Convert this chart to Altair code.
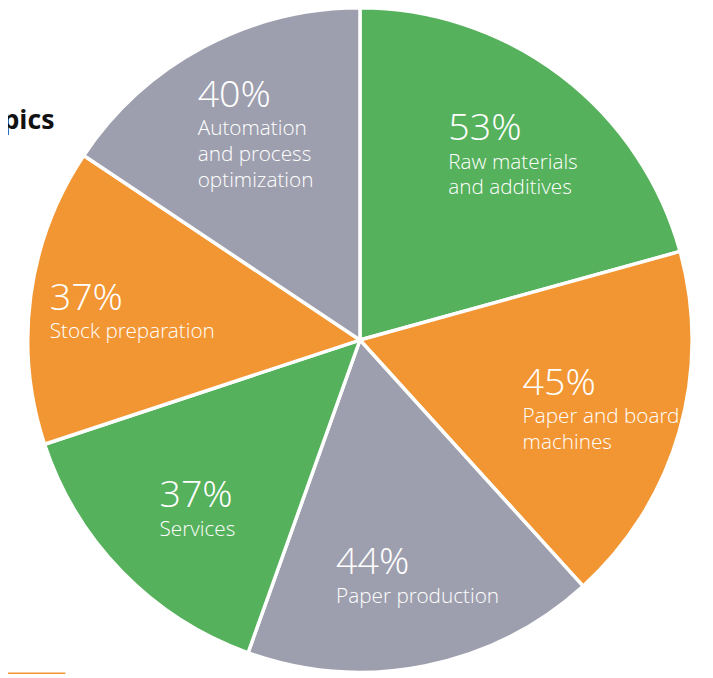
import altair as alt
import pandas as pd

categories = ["Raw materials and additives", "Paper and board machines", "Paper production",
              "Services", "Stock preparation", "Automation and process optimization"]
values = [53, 45, 44, 37, 37, 40]
pct_labels = ["53%", "45%", "44%", "37%", "37%", "40%"]
label_lines = ["Raw materials\nand additives", "Paper and board\nmachines", "Paper production",
               "Services", "Stock preparation", "Automation\nand process\noptimization"]
colors = ["#56b15c", "#f29633", "#9e9fae", "#56b15c", "#f29633", "#9e9fae"]
title_text = "Topics"

df = pd.DataFrame({
    "category": categories,
    "value": values,
    "pct": pct_labels,
    "label": label_lines,
    "order": list(range(len(categories))),
})

CX, CY, R_OUT, R_LAB = 356, 332, 336, 240
CHAR_W = 10.0     # approximate width of one label character in px
LINE_H = 26
FONT = "'Open Sans Light', 'Open Sans', sans-serif"

base = alt.Chart(df)

pie = base.mark_arc(radius=R_OUT, stroke="white", strokeWidth=3.5).encode(
    theta=alt.Theta("value:Q", stack=True),
    order=alt.Order("order:Q"),
    color=alt.Color("category:N", scale=alt.Scale(domain=categories, range=colors), legend=None),
    x=alt.value(CX),
    y=alt.value(CY),
)

pos = base.transform_window(
    cum="sum(value)", sort=[alt.SortField("order")]
).transform_joinaggregate(
    total="sum(value)"
).transform_calculate(
    ang="(datum.cum - datum.value/2) / datum.total * 2 * PI",
    nl="length(split(datum.label, '\\n'))",
    ml="max(length(split(datum.label, '\\n')[0]), length(split(datum.label, '\\n')[1] || ''), length(split(datum.label, '\\n')[2] || ''))",
).transform_calculate(
    tx=f"{CX} + {R_LAB} * sin(datum.ang) - {CHAR_W / 2} * datum.ml",
    ty=f"{CY} - {R_LAB} * cos(datum.ang) - 3.5 - {LINE_H / 2} * (datum.nl - 1)",
)

pct_text = pos.mark_text(
    align="left", baseline="alphabetic", dx=9, dy=5,
    font=FONT, fontWeight=300, fontSize=38, color="white",
).encode(
    x=alt.X("tx:Q", scale=None, axis=None),
    y=alt.Y("ty:Q", scale=None, axis=None),
    text="pct:N",
)

lab_text = pos.mark_text(
    align="left", baseline="alphabetic", dx=9, dy=34, lineBreak="\n", lineHeight=LINE_H,
    font=FONT, fontWeight=300, fontSize=21, color="white",
).encode(
    x=alt.X("tx:Q", scale=None, axis=None),
    y=alt.Y("ty:Q", scale=None, axis=None),
    text="label:N",
)

title = alt.Chart(pd.DataFrame({"t": [title_text]})).mark_text(
    align="right", baseline="alphabetic", font="'Open Sans', sans-serif", fontWeight=700,
    fontSize=27, color="#111111",
).encode(
    x=alt.value(47), y=alt.value(119), text="t:N",
)

rule = alt.Chart(pd.DataFrame({"t": [0]})).mark_rule(color="#f29633", strokeWidth=1.5).encode(
    x=alt.value(-8), x2=alt.value(58), y=alt.value(669),
)

chart = alt.layer(pie, pct_text, lab_text, title, rule).properties(
    width=705, height=670, padding=0, background="white",
    autosize=alt.AutoSizeParams(type="none"),
).configure_view(strokeWidth=0)

chart.save("out.html", embed_options={"renderer": "svg", "actions": False})
